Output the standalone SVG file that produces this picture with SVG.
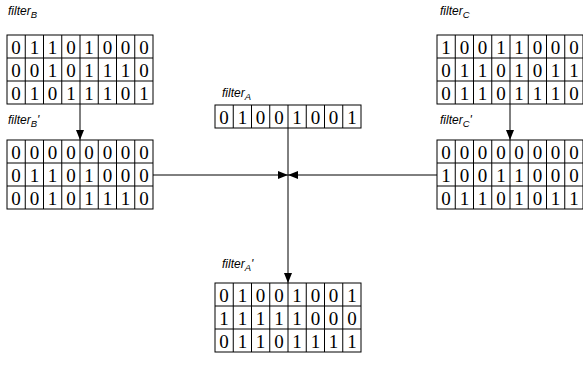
<svg xmlns="http://www.w3.org/2000/svg" width="583" height="367" viewBox="0 0 583 367">
<style>
.cell{fill:#fff;stroke:#000;stroke-width:1}
.d{font-family:"Liberation Serif",serif;font-size:19px;text-anchor:middle;fill:#000}
.lbl{font-family:"Liberation Sans",Arial,sans-serif;font-style:italic;font-size:12px;fill:#000}
.sub{font-size:9.5px}
.ln{stroke:#000;stroke-width:1;fill:none}
</style>
<defs>
<marker id="ah" viewBox="0 0 10 10" refX="10" refY="5" markerWidth="10" markerHeight="10" markerUnits="userSpaceOnUse" orient="auto">
<path d="M0,1 L10,5 L0,9 z" fill="#000"/>
</marker>
</defs>
<rect width="583" height="367" fill="#fff"/>
<g id="connectors">
<line class="ln" x1="80" y1="104" x2="80" y2="140" marker-end="url(#ah)"/>
<line class="ln" x1="510" y1="104" x2="510" y2="140" marker-end="url(#ah)"/>
<line class="ln" x1="288" y1="128" x2="288" y2="283" marker-end="url(#ah)"/>
<line class="ln" x1="153" y1="175" x2="288" y2="175" marker-end="url(#ah)"/>
<line class="ln" x1="437" y1="175" x2="288" y2="175" marker-end="url(#ah)"/>
</g>
<g id="filterB">
<text class="lbl" x="8" y="15">filter<tspan class="sub" dy="3">B</tspan></text>
<g transform="translate(7,35)">
<rect class="cell" x="0" y="0" width="146" height="69"/>
<path class="ln" d="M18.25,0V69M36.5,0V69M54.75,0V69M73,0V69M91.25,0V69M109.5,0V69M127.75,0V69M0,23H146M0,46H146"/>
<text class="d" y="19"><tspan x="9.1">0</tspan><tspan x="27.4">1</tspan><tspan x="45.6">1</tspan><tspan x="63.9">0</tspan><tspan x="82.1">1</tspan><tspan x="100.4">0</tspan><tspan x="118.6">0</tspan><tspan x="136.9">0</tspan></text>
<text class="d" y="42"><tspan x="9.1">0</tspan><tspan x="27.4">0</tspan><tspan x="45.6">1</tspan><tspan x="63.9">0</tspan><tspan x="82.1">1</tspan><tspan x="100.4">1</tspan><tspan x="118.6">1</tspan><tspan x="136.9">0</tspan></text>
<text class="d" y="65"><tspan x="9.1">0</tspan><tspan x="27.4">1</tspan><tspan x="45.6">0</tspan><tspan x="63.9">1</tspan><tspan x="82.1">1</tspan><tspan x="100.4">1</tspan><tspan x="118.6">0</tspan><tspan x="136.9">1</tspan></text>
</g>
</g>
<g id="filterBp">
<text class="lbl" x="8" y="124">filter<tspan class="sub" dy="3">B</tspan><tspan dy="-3">'</tspan></text>
<g transform="translate(7,140)">
<rect class="cell" x="0" y="0" width="146" height="69"/>
<path class="ln" d="M18.25,0V69M36.5,0V69M54.75,0V69M73,0V69M91.25,0V69M109.5,0V69M127.75,0V69M0,23H146M0,46H146"/>
<text class="d" y="19"><tspan x="9.1">0</tspan><tspan x="27.4">0</tspan><tspan x="45.6">0</tspan><tspan x="63.9">0</tspan><tspan x="82.1">0</tspan><tspan x="100.4">0</tspan><tspan x="118.6">0</tspan><tspan x="136.9">0</tspan></text>
<text class="d" y="42"><tspan x="9.1">0</tspan><tspan x="27.4">1</tspan><tspan x="45.6">1</tspan><tspan x="63.9">0</tspan><tspan x="82.1">1</tspan><tspan x="100.4">0</tspan><tspan x="118.6">0</tspan><tspan x="136.9">0</tspan></text>
<text class="d" y="65"><tspan x="9.1">0</tspan><tspan x="27.4">0</tspan><tspan x="45.6">1</tspan><tspan x="63.9">0</tspan><tspan x="82.1">1</tspan><tspan x="100.4">1</tspan><tspan x="118.6">1</tspan><tspan x="136.9">0</tspan></text>
</g>
</g>
<g id="filterA">
<text class="lbl" x="222" y="97">filter<tspan class="sub" dy="3">A</tspan></text>
<g transform="translate(215,105)">
<rect class="cell" x="0" y="0" width="146" height="23"/>
<path class="ln" d="M18.25,0V23M36.5,0V23M54.75,0V23M73,0V23M91.25,0V23M109.5,0V23M127.75,0V23"/>
<text class="d" y="19"><tspan x="9.1">0</tspan><tspan x="27.4">1</tspan><tspan x="45.6">0</tspan><tspan x="63.9">0</tspan><tspan x="82.1">1</tspan><tspan x="100.4">0</tspan><tspan x="118.6">0</tspan><tspan x="136.9">1</tspan></text>
</g>
</g>
<g id="filterAp">
<text class="lbl" x="222" y="268">filter<tspan class="sub" dy="3">A</tspan><tspan dy="-3">'</tspan></text>
<g transform="translate(215,283)">
<rect class="cell" x="0" y="0" width="146" height="69"/>
<path class="ln" d="M18.25,0V69M36.5,0V69M54.75,0V69M73,0V69M91.25,0V69M109.5,0V69M127.75,0V69M0,23H146M0,46H146"/>
<text class="d" y="19"><tspan x="9.1">0</tspan><tspan x="27.4">1</tspan><tspan x="45.6">0</tspan><tspan x="63.9">0</tspan><tspan x="82.1">1</tspan><tspan x="100.4">0</tspan><tspan x="118.6">0</tspan><tspan x="136.9">1</tspan></text>
<text class="d" y="42"><tspan x="9.1">1</tspan><tspan x="27.4">1</tspan><tspan x="45.6">1</tspan><tspan x="63.9">1</tspan><tspan x="82.1">1</tspan><tspan x="100.4">0</tspan><tspan x="118.6">0</tspan><tspan x="136.9">0</tspan></text>
<text class="d" y="65"><tspan x="9.1">0</tspan><tspan x="27.4">1</tspan><tspan x="45.6">1</tspan><tspan x="63.9">0</tspan><tspan x="82.1">1</tspan><tspan x="100.4">1</tspan><tspan x="118.6">1</tspan><tspan x="136.9">1</tspan></text>
</g>
</g>
<g id="filterC">
<text class="lbl" x="440" y="15">filter<tspan class="sub" dy="3">C</tspan></text>
<g transform="translate(437,35)">
<rect class="cell" x="0" y="0" width="146" height="69"/>
<path class="ln" d="M18.25,0V69M36.5,0V69M54.75,0V69M73,0V69M91.25,0V69M109.5,0V69M127.75,0V69M0,23H146M0,46H146"/>
<text class="d" y="19"><tspan x="9.1">1</tspan><tspan x="27.4">0</tspan><tspan x="45.6">0</tspan><tspan x="63.9">1</tspan><tspan x="82.1">1</tspan><tspan x="100.4">0</tspan><tspan x="118.6">0</tspan><tspan x="136.9">0</tspan></text>
<text class="d" y="42"><tspan x="9.1">0</tspan><tspan x="27.4">1</tspan><tspan x="45.6">1</tspan><tspan x="63.9">0</tspan><tspan x="82.1">1</tspan><tspan x="100.4">0</tspan><tspan x="118.6">1</tspan><tspan x="136.9">1</tspan></text>
<text class="d" y="65"><tspan x="9.1">0</tspan><tspan x="27.4">1</tspan><tspan x="45.6">1</tspan><tspan x="63.9">0</tspan><tspan x="82.1">1</tspan><tspan x="100.4">1</tspan><tspan x="118.6">1</tspan><tspan x="136.9">0</tspan></text>
</g>
</g>
<g id="filterCp">
<text class="lbl" x="440" y="124">filter<tspan class="sub" dy="3">C</tspan><tspan dy="-3">'</tspan></text>
<g transform="translate(437,140)">
<rect class="cell" x="0" y="0" width="146" height="69"/>
<path class="ln" d="M18.25,0V69M36.5,0V69M54.75,0V69M73,0V69M91.25,0V69M109.5,0V69M127.75,0V69M0,23H146M0,46H146"/>
<text class="d" y="19"><tspan x="9.1">0</tspan><tspan x="27.4">0</tspan><tspan x="45.6">0</tspan><tspan x="63.9">0</tspan><tspan x="82.1">0</tspan><tspan x="100.4">0</tspan><tspan x="118.6">0</tspan><tspan x="136.9">0</tspan></text>
<text class="d" y="42"><tspan x="9.1">1</tspan><tspan x="27.4">0</tspan><tspan x="45.6">0</tspan><tspan x="63.9">1</tspan><tspan x="82.1">1</tspan><tspan x="100.4">0</tspan><tspan x="118.6">0</tspan><tspan x="136.9">0</tspan></text>
<text class="d" y="65"><tspan x="9.1">0</tspan><tspan x="27.4">1</tspan><tspan x="45.6">1</tspan><tspan x="63.9">0</tspan><tspan x="82.1">1</tspan><tspan x="100.4">0</tspan><tspan x="118.6">1</tspan><tspan x="136.9">1</tspan></text>
</g>
</g>
</svg>
